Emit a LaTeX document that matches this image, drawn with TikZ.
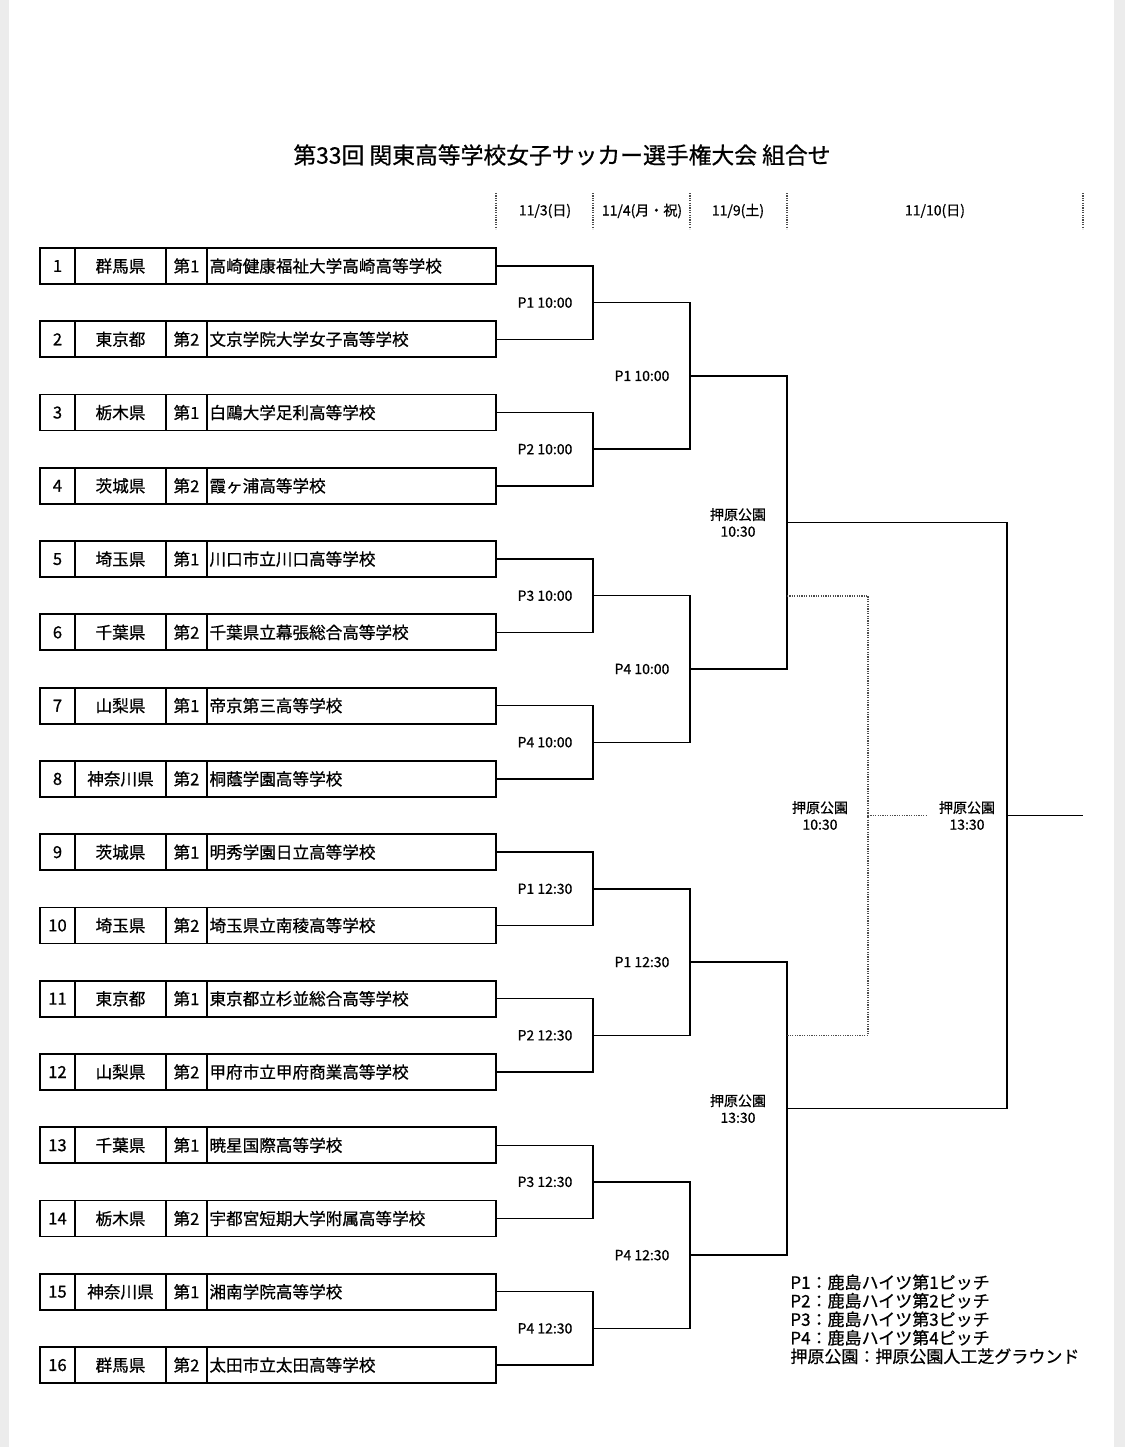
\documentclass[tikz,border=0pt]{standalone}
\usepackage{fontspec}
\setmainfont{Noto Sans CJK JP}[FakeBold=0.7]
\usetikzlibrary{positioning}

\tikzset{
  cell/.style={draw, line width=0.9pt, outer sep=0pt, inner sep=0pt, minimum height=18pt, font=\fontsize{8.3pt}{10pt}\selectfont},
  bracket/.style={line width=0.7pt},
  spare/.style={line width=0.8pt, gray!60!black, dash pattern=on 0.6pt off 0.6pt},
  datesep/.style={line width=0.8pt, gray!60!black, dash pattern=on 0.6pt off 0.6pt},
  slot/.style={font=\fontsize{7pt}{8.4pt}\selectfont, align=center, inner sep=0pt},
}

\begin{document}
\begin{tikzpicture}[x=0.5pt, y=-0.5pt]
\useasboundingbox (0,0) rectangle (1125,1447);
% page edges
\fill[gray!15] (0,0) rectangle (9,1447);
\fill[gray!15] (1114,0) rectangle (1125,1447);

% title
\node[font=\fontsize{11.4pt}{13pt}\selectfont] (title) at (562,155) {第33回 関東高等学校女子サッカー選手権大会 組合せ};

% dates
\foreach \x in {496,593,690,787,1083}
  \draw[datesep] (\x,193) -- (\x,229);
\node[slot] (day1) at (545,211) {11/3(日)};
\node[slot] (day2) at (642,211) {11/4(月・祝)};
\node[slot] (day3) at (738,211) {11/9(土)};
\node[slot] (day4) at (935,211) {11/10(日)};

% teams
\foreach \pref/\school [count=\i] in {群馬県/高崎健康福祉大学高崎高等学校, 東京都/文京学院大学女子高等学校,
  栃木県/白鷗大学足利高等学校, 茨城県/霞ヶ浦高等学校, 埼玉県/川口市立川口高等学校, 千葉県/千葉県立幕張総合高等学校,
  山梨県/帝京第三高等学校, 神奈川県/桐蔭学園高等学校, 茨城県/明秀学園日立高等学校, 埼玉県/埼玉県立南稜高等学校,
  東京都/東京都立杉並総合高等学校, 山梨県/甲府市立甲府商業高等学校, 千葉県/暁星国際高等学校,
  栃木県/宇都宮短期大学附属高等学校, 神奈川県/湘南学院高等学校, 群馬県/太田市立太田高等学校} {
  \pgfmathsetmacro\ty{266+(\i-1)*73.27}
  \pgfmathtruncatemacro\rk{2-mod(\i,2)}
  \node[cell, minimum width=17.5pt] (n\i) at (57.5,\ty) {\i};
  \node[cell, minimum width=45.5pt, right=0pt of n\i] (p\i) {\pref};
  \node[cell, minimum width=20.5pt, right=0pt of p\i] (k\i) {第\rk};
  \node[cell, text width=142pt, inner xsep=1.25pt, align=left, right=0pt of k\i] (s\i) {\school};
}

% first round
\foreach \k/\lab in {1/P1 10:00, 2/P2 10:00, 3/P3 10:00, 4/P4 10:00, 5/P1 12:30, 6/P2 12:30, 7/P3 12:30, 8/P4 12:30} {
  \pgfmathtruncatemacro\a{2*\k-1}
  \pgfmathtruncatemacro\b{2*\k}
  \pgfmathsetmacro\ry{266+(2*\k-1.5)*73.27}
  \coordinate (ra\k) at (593,\ry);
  \draw[bracket] (s\a.east) -| (ra\k) |- (s\b.east);
  \node[slot] (la\k) at (545,\ry) {\lab};
}

% second round
\foreach \m/\lab in {1/P1 10:00, 2/P4 10:00, 3/P1 12:30, 4/P4 12:30} {
  \pgfmathtruncatemacro\a{2*\m-1}
  \pgfmathtruncatemacro\b{2*\m}
  \pgfmathsetmacro\ry{266+(4*\m-2.5)*73.27}
  \coordinate (rb\m) at (690,\ry);
  \draw[bracket] (ra\a) -| (rb\m) |- (ra\b);
  \node[slot] (lb\m) at (642,\ry) {\lab};
}

% semifinals
\foreach \n/\lab in {1/10:30, 2/13:30} {
  \pgfmathtruncatemacro\a{2*\n-1}
  \pgfmathtruncatemacro\b{2*\n}
  \pgfmathsetmacro\ry{266+(8*\n-4.5)*73.27}
  \coordinate (rc\n) at (787,\ry);
  \draw[bracket] (rb\a) -| (rc\n) |- (rb\b);
  \node[slot] (lc\n) at (738,\ry) {押原公園\\\lab};
}

% final
\coordinate (fin) at (1007,815.5);
\coordinate (champ) at (1083,815.5);
\draw[bracket] (rc1) -| (fin) |- (rc2);
\draw[bracket] (fin) -- (champ);
\node[slot] (lfin) at (967,815.5) {押原公園\\13:30};

% third place
\coordinate (sf1) at (787,595.7);
\coordinate (sf2) at (787,1035.3);
\coordinate (third) at (868,815.5);
\coordinate (thirdend) at (927,815.5);
\draw[spare] (sf1) -| (third) |- (sf2);
\draw[spare] (third) -- (thirdend);
\node[slot] (lthird) at (820,815.5) {押原公園\\10:30};

% venues
\node[anchor=north west, align=left, inner sep=0pt, font=\fontsize{8.5pt}{9.25pt}\selectfont] (legend) at (790,1274)
  {P1：鹿島ハイツ第1ピッチ\\P2：鹿島ハイツ第2ピッチ\\P3：鹿島ハイツ第3ピッチ\\P4：鹿島ハイツ第4ピッチ\\押原公園：押原公園人工芝グラウンド};
\end{tikzpicture}
\end{document}
